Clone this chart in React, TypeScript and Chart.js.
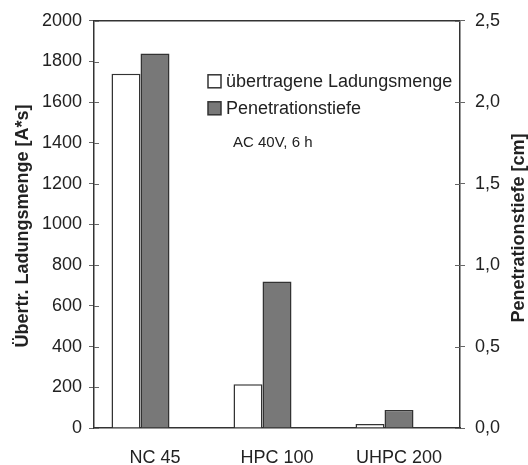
import React, { useEffect, useRef } from "react";
import { Chart, registerables } from "chart.js";

Chart.register(...registerables);

const categories = ["NC 45", "HPC 100", "UHPC 200"];
const ladungsmenge = [1740, 215, 20]; // A*s, left axis
const penetrationstiefe = [2.3, 0.9, 0.11]; // cm, right axis
const leftTicks = { min: 0, max: 2000, step: 200 };
const rightTicks = { min: 0, max: 2.5, step: 0.5 };
const legendLabels = ["übertragene Ladungsmenge", "Penetrationstiefe"];
const note = "AC 40V, 6 h";
const leftTitle = "Übertr. Ladungsmenge [A*s]";
const rightTitle = "Penetrationstiefe [cm]";

const FONT = "'Liberation Sans', Arial, Helvetica, sans-serif";
const TEXT = "#222";
const LINE = "#333";
const GREY = "#787878";

const decorPlugin = {
  id: "decor",
  afterDraw(chart: any) {
    const ctx = chart.ctx;
    const ca = chart.chartArea;
    const y = chart.scales.y;
    const y1 = chart.scales.y1;
    ctx.save();
    // top border
    ctx.strokeStyle = LINE;
    ctx.lineWidth = 1.5;
    ctx.beginPath();
    ctx.moveTo(ca.left, ca.top);
    ctx.lineTo(ca.right, ca.top);
    ctx.stroke();
    // inner tick parts
    ctx.lineWidth = 1;
    ctx.strokeStyle = "#666";
    y.ticks.forEach((t: any) => {
      const py = Math.round(y.getPixelForValue(t.value)) + 0.5;
      ctx.beginPath();
      ctx.moveTo(ca.left, py);
      ctx.lineTo(ca.left + 5, py);
      ctx.stroke();
    });
    y1.ticks.forEach((t: any) => {
      const py = Math.round(y1.getPixelForValue(t.value)) + 0.5;
      ctx.beginPath();
      ctx.moveTo(ca.right - 5, py);
      ctx.lineTo(ca.right, py);
      ctx.stroke();
    });
    // legend
    const lx = ca.left + 114;
    const ly = ca.top + 54;
    ctx.lineWidth = 1.5;
    ctx.strokeStyle = LINE;
    ctx.fillStyle = "#fff";
    ctx.fillRect(lx, ly, 13, 13);
    ctx.strokeRect(lx, ly, 13, 13);
    ctx.fillStyle = GREY;
    ctx.fillRect(lx, ly + 27, 13, 13);
    ctx.strokeRect(lx, ly + 27, 13, 13);
    ctx.fillStyle = TEXT;
    ctx.textBaseline = "middle";
    ctx.textAlign = "left";
    ctx.font = `18px ${FONT}`;
    ctx.fillText(legendLabels[0], lx + 18, ly + 7);
    ctx.fillText(legendLabels[1], lx + 18, ly + 34);
    ctx.font = `15px ${FONT}`;
    ctx.fillText(note, lx + 25, ly + 68);
    // axis titles
    ctx.font = `bold 18px ${FONT}`;
    ctx.textAlign = "center";
    ctx.save();
    ctx.translate(23, 226);
    ctx.rotate(-Math.PI / 2);
    ctx.fillText(leftTitle, 0, 0);
    ctx.restore();
    ctx.save();
    ctx.translate(519, 228);
    ctx.rotate(-Math.PI / 2);
    ctx.fillText(rightTitle, 0, 0);
    ctx.restore();
    ctx.restore();
  },
};

export default function App() {
  const ref = useRef<HTMLCanvasElement>(null);
  useEffect(() => {
    if (!ref.current) return;
    const chart = new Chart(ref.current, {
      type: "bar",
      data: {
        labels: categories,
        datasets: [
          {
            label: legendLabels[0],
            data: ladungsmenge,
            yAxisID: "y",
            backgroundColor: "#fff",
            borderColor: LINE,
            borderWidth: 1.5,
          },
          {
            label: legendLabels[1],
            data: penetrationstiefe,
            yAxisID: "y1",
            backgroundColor: GREY,
            borderColor: LINE,
            borderWidth: 1.5,
          },
          {
            label: "",
            data: categories.map(() => null),
            yAxisID: "y",
          },
        ],
      },
      options: {
        responsive: false,
        animation: false,
        layout: { padding: { top: 20, left: 0, right: 0, bottom: 0 } },
        datasets: {
          bar: { categoryPercentage: 0.713, barPercentage: 1.0 },
        },
        plugins: {
          legend: { display: false },
          tooltip: { enabled: false },
        },
        scales: {
          x: {
            grid: { display: false },
            border: { display: true, color: LINE, width: 1.5 },
            ticks: {
              color: TEXT,
              font: { family: FONT, size: 18 },
              padding: 11,
            },
            afterFit(s: any) {
              s.height = 37;
            },
          },
          y: {
            position: "left",
            min: leftTicks.min,
            max: leftTicks.max,
            grid: {
              drawOnChartArea: false,
              drawTicks: true,
              tickLength: 5,
              color: "#666",
            },
            border: { display: true, color: LINE, width: 1.5 },
            ticks: {
              stepSize: leftTicks.step,
              color: TEXT,
              font: { family: FONT, size: 18 },
              padding: 7,
              callback: (v: any) => String(v),
            },
            afterFit(s: any) {
              s.width = 94;
            },
          },
          y1: {
            position: "right",
            min: rightTicks.min,
            max: rightTicks.max,
            grid: {
              drawOnChartArea: false,
              drawTicks: true,
              tickLength: 5,
              color: "#666",
            },
            border: { display: true, color: LINE, width: 1.5 },
            ticks: {
              stepSize: rightTicks.step,
              color: TEXT,
              font: { family: FONT, size: 18 },
              padding: 10,
              callback: (v: any) => Number(v).toFixed(1).replace(".", ","),
            },
            afterFit(s: any) {
              s.width = 68;
            },
          },
        },
      },
      plugins: [decorPlugin],
    });
    return () => chart.destroy();
  }, []);
  return (
    <div style={{ position: "absolute", left: 0, top: 0, width: 528, height: 465, background: "#fff" }}>
      <canvas ref={ref} width={528} height={465} />
    </div>
  );
}
